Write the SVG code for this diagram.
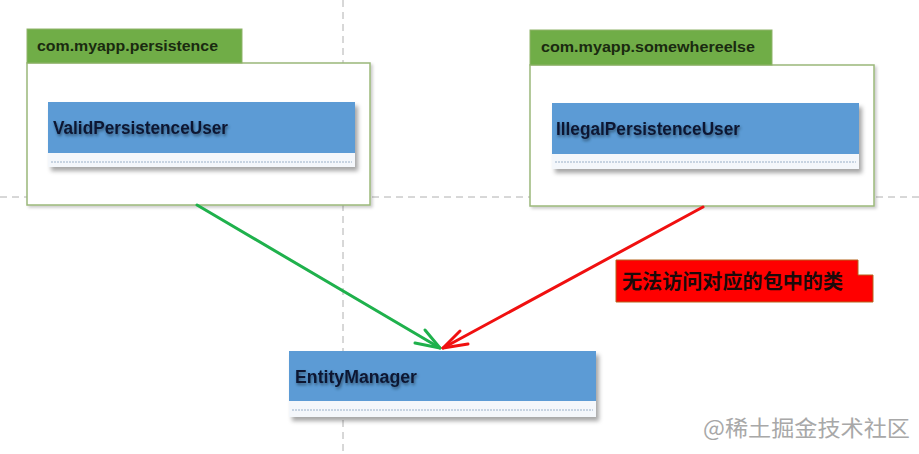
<svg xmlns="http://www.w3.org/2000/svg" width="919" height="454" viewBox="0 0 919 454">
<style>
.guide{stroke:#b0b0b0;stroke-width:1;stroke-dasharray:7,5;fill:none}
.tab{fill:#70ad47;stroke:#8fb36a;stroke-width:1}
.pkg{fill:#ffffff;stroke:#9bb87a;stroke-width:1.5}
.pkglbl{font-family:"Liberation Sans",Arial,sans-serif;font-weight:bold;font-size:15.5px;fill:#1a2a10}
.head{fill:#5b9bd5}
.comp{fill:#f4f7fb}
.sep{stroke:#9ab0c8;stroke-width:1;stroke-dasharray:2,1}
.cls{font-family:"Liberation Sans",Arial,sans-serif;font-weight:bold;font-size:17.5px;fill:#0c1833}
.grn{stroke:#1fb14c;stroke-width:3;fill:none;stroke-linecap:round;stroke-linejoin:round}
.red{stroke:#f01010;stroke-width:3;fill:none;stroke-linecap:round;stroke-linejoin:round}
.note{fill:#ff0000;stroke:#b5651d;stroke-width:1}
.notetxt{font-family:"Noto Sans CJK SC",sans-serif;font-weight:bold;font-size:20px;fill:#1a0a0a}
.wm{font-family:"Noto Sans CJK SC",sans-serif;font-size:22px;fill:#a8a8a8}
</style>
<defs>
<filter id="sh" x="-10%" y="-20%" width="125%" height="160%">
<feDropShadow dx="3" dy="4" stdDeviation="2" flood-color="#000" flood-opacity="0.35"/>
</filter>
<filter id="psh" x="-5%" y="-5%" width="115%" height="115%">
<feDropShadow dx="2" dy="2" stdDeviation="1.5" flood-color="#000" flood-opacity="0.2"/>
</filter>
<filter id="tsh" x="-10%" y="-30%" width="120%" height="170%">
<feDropShadow dx="1" dy="2" stdDeviation="1.5" flood-color="#000" flood-opacity="0.45"/>
</filter>
</defs>
<rect width="919" height="454" fill="#ffffff"/>
<g id="guides">
<line class="guide" x1="343" y1="0" x2="343" y2="454"/>
<line class="guide" x1="0" y1="197" x2="919" y2="197"/>
</g>
<g id="pkg-persistence">
<rect class="pkg" x="27" y="63" width="343" height="142" filter="url(#psh)"/>
<rect class="tab" x="27" y="29" width="215" height="34"/>
<text class="pkglbl" x="37" y="51" textLength="181" lengthAdjust="spacingAndGlyphs">com.myapp.persistence</text>
</g>
<g id="ValidPersistenceUser" filter="url(#sh)">
<rect class="comp" x="48" y="102" width="307" height="65"/>
<rect class="head" x="48" y="102" width="307" height="51"/>
<line class="sep" x1="51" y1="162" x2="352" y2="162"/>
<text class="cls" x="53" y="134" textLength="175" lengthAdjust="spacingAndGlyphs" filter="url(#tsh)">ValidPersistenceUser</text>
</g>
<g id="pkg-somewhereelse">
<rect class="pkg" x="530" y="65" width="344" height="141" filter="url(#psh)"/>
<rect class="tab" x="530" y="30" width="242" height="35"/>
<text class="pkglbl" x="541" y="52" textLength="214" lengthAdjust="spacingAndGlyphs">com.myapp.somewhereelse</text>
</g>
<g id="IllegalPersistenceUser" filter="url(#sh)">
<rect class="comp" x="552" y="103" width="307" height="66"/>
<rect class="head" x="552" y="103" width="307" height="51"/>
<line class="sep" x1="555" y1="162" x2="856" y2="162"/>
<text class="cls" x="556" y="135" textLength="184" lengthAdjust="spacingAndGlyphs" filter="url(#tsh)">IllegalPersistenceUser</text>
</g>
<g id="EntityManager" filter="url(#sh)">
<rect class="comp" x="289" y="351" width="307" height="66"/>
<rect class="head" x="289" y="351" width="307" height="50"/>
<line class="sep" x1="292" y1="410" x2="593" y2="410"/>
<text class="cls" x="295" y="383" textLength="122" lengthAdjust="spacingAndGlyphs" filter="url(#tsh)">EntityManager</text>
</g>
<g id="connectors">
<line class="grn" x1="197" y1="205" x2="440" y2="348"/>
<polyline class="grn" points="425,330 440,348 415,343"/>
<line class="red" x1="703" y1="207" x2="443" y2="348"/>
<polyline class="red" points="460,331 443,348 468,344"/>
</g>
<g id="note">
<polygon class="note" points="616,260 858,260 858,275 873,275 873,302 616,302"/>
<text class="notetxt" x="622" y="289" textLength="221" lengthAdjust="spacingAndGlyphs">无法访问对应的包中的类</text>
</g>
<g id="watermark">
<text class="wm" x="703" y="436" textLength="207" lengthAdjust="spacingAndGlyphs">@稀土掘金技术社区</text>
</g>
</svg>
